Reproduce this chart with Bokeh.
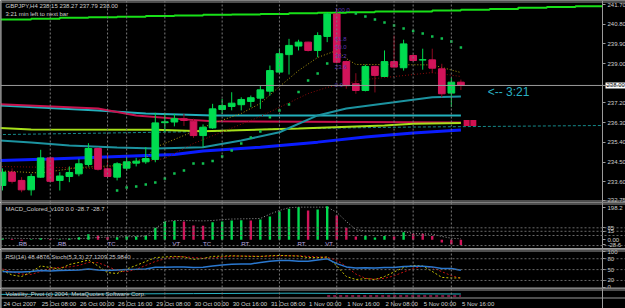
from bokeh.plotting import figure
from bokeh.layouts import column
from bokeh.models import (Range1d, Span, ColumnDataSource, FixedTicker, LinearAxis,
                          CustomJSTickFormatter)
from bokeh.core.properties import value
from bokeh.embed import file_html
from bokeh.resources import INLINE

# ---------------- data ----------------
bars = list(range(49))
opens = [233.43, 234.04, 233.66, 233.23, 233.81, 234.69, 233.66, 233.84, 233.96, 234.39,
         235.12, 234.19, 233.81, 234.22, 234.45, 234.51, 234.62, 236.30, 236.33, 236.48,
         236.37, 235.71, 236.06, 236.90, 237.04, 237.12, 237.27, 237.42, 237.74, 238.61,
         239.41, 239.80, 239.98, 239.60, 240.24, 241.27, 239.09, 238.08, 237.77, 238.87,
         238.41, 239.09, 238.81, 239.37, 239.16, 239.17, 238.76, 237.65, 238.15]
highs = [234.21, 234.21, 233.81, 233.96, 235.06, 234.75, 234.04, 234.30, 234.65, 235.36,
         235.18, 234.89, 234.49, 234.69, 234.69, 235.18, 236.75, 236.72, 236.70, 236.70,
         236.48, 236.22, 237.16, 237.39, 237.69, 237.46, 237.54, 238.00, 238.91, 239.68,
         240.13, 240.09, 240.00, 240.43, 241.35, 241.50, 239.14, 238.56, 238.95, 238.91,
         239.60, 240.28, 240.09, 239.45, 239.68, 239.68, 238.99, 238.35, 238.27]
lows = [233.20, 233.52, 233.12, 232.97, 233.78, 233.58, 233.20, 233.58, 233.85, 234.30,
        234.11, 233.81, 233.66, 234.11, 234.30, 234.42, 234.49, 235.87, 236.13, 236.15,
        235.61, 235.18, 236.02, 236.70, 236.86, 236.86, 237.01, 236.93, 237.54, 238.53,
        238.50, 239.60, 239.55, 239.29, 239.98, 239.00, 237.85, 237.62, 237.73, 237.68,
        238.41, 238.82, 238.68, 239.10, 238.72, 238.56, 237.46, 237.01, 237.79]
closes = [234.04, 233.62, 233.23, 233.84, 234.69, 233.62, 233.86, 234.02, 234.42, 235.12,
          234.17, 233.84, 234.42, 234.51, 234.54, 234.66, 236.29, 236.34, 236.48, 236.40,
          235.71, 236.09, 236.93, 237.08, 237.19, 237.36, 237.44, 237.80, 238.68, 239.45,
          239.83, 239.98, 239.60, 240.28, 241.27, 239.06, 237.99, 237.77, 238.87, 238.46,
          239.09, 238.84, 239.90, 239.14, 239.18, 238.79, 237.62, 238.15, 238.00]

time_label_bars = [0, 4, 8, 12, 16, 20, 24, 28, 32, 36, 40, 44, 48]
time_labels = ["24 Oct 2007", "25 Oct 08:00", "26 Oct 00:00", "26 Oct 16:00", "29 Oct 08:00",
               "30 Oct 00:00", "30 Oct 16:00", "31 Oct 08:00", "1 Nov 00:00", "1 Nov 16:00",
               "2 Nov 08:00", "5 Nov 00:00", "5 Nov 16:00"]
separator_bars = [5, 11, 13, 17, 23, 29, 35, 41, 43, 47]

price_ticks = [241.70, 240.80, 239.90, 239.00, 237.20, 236.30, 235.40, 234.50, 233.60, 232.75]
bid_price = 238.00
bid_text = ["238.00"]

# stepped channel line at the top (projected to the right edge of the chart)
chan_bars = [-1, 3, 6, 9, 12, 15, 18, 21, 24, 27, 30, 33, 36, 39, 42, 45, 48, 51, 54, 57, 60]
chan_vals = [241.01, 241.05, 241.09, 241.12, 241.14, 241.17, 241.20, 241.23, 241.24, 241.27,
             241.30, 241.32, 241.35, 241.38, 241.38, 241.43, 241.46, 241.50, 241.55, 241.59,
             241.62]

# moving averages
teal1_bars = [-1, 10, 15, 22, 48]
teal1_vals = [237.10, 236.86, 236.72, 236.63, 236.63]
crimson_bars = [-1, 10, 14, 19, 22, 43, 48]
crimson_vals = [237.15, 236.95, 236.63, 236.45, 236.36, 236.32, 236.31]
lime_bars = [-1, 3, 16, 21, 31, 40, 43, 48]
lime_vals = [236.07, 235.99, 235.98, 235.91, 236.03, 236.17, 236.25, 236.29]
tealdash_bars = [-1, 10, 22, 29, 43]
tealdash_vals = [235.75, 235.82, 235.90, 236.02, 236.10]
tealdash_end = 236.17
teal2_bars = [-1, 3, 7, 12, 16, 21, 25, 29, 33, 36, 41, 45, 48]
teal2_vals = [235.50, 235.39, 235.26, 235.17, 235.12, 235.18, 235.48, 235.86, 236.63, 236.95,
              237.23, 237.46, 237.50]
blue_bars = [-1, 5, 10, 18, 21, 27, 33, 38, 43, 48]
blue_vals = [234.56, 234.64, 234.72, 234.85, 235.00, 235.18, 235.41, 235.64, 235.83, 235.97]
fast_bars = [-1, 4, 8, 12, 15, 16, 22, 25, 27, 29, 31, 33, 35, 36, 37, 45, 48]
fast_vals = [234.11, 234.00, 234.25, 234.34, 234.66, 235.17, 236.26, 236.72, 237.18, 237.95,
             238.68, 239.28, 239.60, 239.23, 238.96, 238.94, 238.59]
slow_bars = [-1, 6, 10, 13, 17, 20, 27, 32, 34, 38, 45, 48]
slow_vals = [234.30, 234.25, 234.20, 234.39, 234.66, 235.35, 236.58, 237.63, 237.91, 238.27,
             238.59, 238.41]

sar_bars = [12, 13, 14, 15, 16, 17, 18, 19, 20, 21, 22, 23, 24, 25, 26, 27, 28, 29, 30, 31, 32,
            33, 34, 37, 38, 39, 40, 41, 42, 43, 44, 45, 46, 47, 48]
sar_vals = [233.20, 233.34, 233.38, 233.47, 233.57, 233.75, 233.98, 234.11, 234.43, 234.43,
            234.55, 234.75, 235.03, 235.35, 235.62, 235.90, 236.55, 236.85, 237.13, 237.70,
            238.23, 238.55, 239.00, 241.29, 241.15, 241.01, 240.88, 240.74, 240.60, 240.49,
            240.37, 240.24, 240.15, 240.01, 239.73]

fibo_labels = ["100.0", "61.8", "50.0", "38.2", "23.6", "0.0"]
fibo_prices = [241.43, 240.13, 239.74, 239.34, 238.84, 238.04]
marker_bars = [48.6, 49.3]
marker_vals = [236.28, 236.28]
timer_text = ["<-- 3:21"]
timer_bar = [50.8]
timer_price = [237.72]

macd_vals = [6, 4, -6, 3, 8, 4, 3, 6, 14, 30, 23, 14, 14, 18, 17, 25, 65, 100, 102, 100,
             78, 76, 96, 100, 105, 107, 105, 110, 127, 154, 169, 178, 160, 165, 183, 132, 65, 18,
             20, 12, 20, 18, 41, 32, 32, 20, -15, -25, -28.7]
macd_up = ["g", "r", "r", "g", "g", "r", "g", "g", "g", "g", "r", "r", "g", "g", "g", "g", "g",
           "g", "g", "r", "r", "r", "g", "g", "g", "g", "r", "g", "g", "g", "g", "g", "r", "g",
           "g", "r", "r", "r", "g", "g", "g", "r", "g", "r", "r", "r", "r", "r", "r"]
macd_signal = [8, 8, 7, 6, 6, 6, 5, 5, 6, 8, 12, 14, 15, 16, 17, 20, 60, 100, 105, 105, 104,
               103, 105, 110, 113, 114, 115, 116, 140, 160, 175, 178, 178, 178, 178, 150, 100,
               55, 48, 48, 47, 47, 46, 33, 32, 30, 18, 8, 5]
macd_levels = [65, 46, 23, -32]
macd_ticks = [176, 65, 46, 0, -28.6]
macd_tick_text = {176: "198.2", 65: "85", 46: "15", 0: "0.00", -28.6: "-28.6"}
pattern_bars = [1.7, 5.8, 11, 17.8, 21, 25, 30.9, 33.8]
pattern_texts = ["RB", "RB", "TC", "VT", "TC", "RT", "RT", "VT"]

rsi_vals = [45, 43.4, 43.4, 45, 47.5, 45.9, 47.5, 48.3, 49.2, 51.7, 49.2, 47.5, 49.2, 50, 50.8,
            51.7, 56.6, 56.6, 57.5, 57.5, 55.8, 56.6, 60, 62.4, 64.9, 65.7, 65.7, 69.9, 73.2,
            74.9, 74.9, 73.2, 73.2, 76.5, 79.8, 66.6, 57.5, 54.1, 55, 54.1, 55.8, 55.8, 58.3,
            59.1, 59.1, 57.5, 53.3, 53.3, 48.49]
stoch_main = [47.5, 35.1, 30.9, 43.4, 60, 55.8, 51.7, 64.1, 69.9, 76.5, 60, 41.7, 39.2, 51.7,
              61.6, 72.4, 83.2, 84.8, 86.5, 84.8, 78.2, 80.7, 86.5, 87.3, 88.1, 87.3, 86.5, 86.5,
              88.1, 89, 88.1, 87.3, 83.2, 83.2, 84.8, 60, 30.9, 22.6, 25.1, 22.6, 30.9, 43.4,
              55.8, 61.6, 60, 45, 28.4, 26.8, 27.12]
stoch_signal = [51.7, 43.4, 37.6, 36.7, 45, 53.3, 55.8, 57.5, 61.6, 69.9, 69.1, 59.1, 46.7,
                44.2, 50.8, 61.6, 72.4, 79.8, 84.8, 85.6, 83.2, 81.5, 81.5, 84.8, 87.3, 87.3,
                87.3, 86.5, 87.3, 88.1, 88.1, 88.1, 86.5, 84.8, 84, 75.7, 58.3, 37.6, 26, 23.5,
                26, 32.6, 43.4, 53.3, 59.1, 55.8, 44.2, 33.4, 25.98]
rsi_levels = [80, 50, 20]
rsi_ticks = [100, 80, 50, 20, 0]

vol_teal_bars = [-1, 10, 20, 30, 40, 48]
vol_teal_vals = [0.45, 0.5, 0.55, 0.6, 0.55, 0.5]
vol_pink_bars = [34, 48]
vol_pink_vals = [0.25, 0.25]

# ---------------- layout constants / styling ----------------
BG = "#000000"
GRID = "#7a7a7a"
FRAME = "#9a9a9a"
AXC = "#d0d0d0"
BULL = "#00dc50"
BEAR = "#d2145a"
FONT = "Liberation Sans"
W = 625
PX_PER_BAR = 9.55
X0 = -2 / PX_PER_BAR                 # left edge of the chart
X1 = (W - 2) / PX_PER_BAR            # right edge of the canvas
AX = (602 - 2) / PX_PER_BAR          # price scale position


def make_panel(height, yr, top_px, bottom_px, with_axis=True):
    p = figure(width=W, height=height, output_backend="svg", toolbar_location=None,
               x_range=Range1d(X0, X1), y_range=Range1d(*yr), y_axis_location=None,
               x_axis_location=None, min_border_left=0, min_border_right=0,
               min_border_top=0, min_border_bottom=0)
    p.background_fill_color = BG
    p.border_fill_color = BG
    p.outline_line_color = None
    p.grid.visible = False
    per_px = (yr[1] - yr[0]) / height
    p.add_layout(Span(location=yr[1] - top_px * per_px, dimension="width",
                      line_color=FRAME, line_width=1))
    if bottom_px is not None:
        p.add_layout(Span(location=yr[1] - bottom_px * per_px, dimension="width",
                          line_color=FRAME, line_width=1))
    p.add_layout(Span(location=X0 + 0.6 / PX_PER_BAR, dimension="height",
                      line_color=FRAME, line_width=1))
    for b in separator_bars:
        p.add_layout(Span(location=b, dimension="height", line_color=GRID,
                          line_dash="2 2", line_width=1))
    ax = None
    if with_axis:
        ax = LinearAxis(fixed_location=AX)
        ax.axis_line_color = FRAME
        ax.major_tick_line_color = FRAME
        ax.minor_tick_line_color = None
        ax.major_tick_out = 3
        ax.major_tick_in = 0
        ax.major_label_standoff = 2
        ax.major_label_text_color = AXC
        ax.major_label_text_font = FONT
        ax.major_label_text_font_size = "6px"
        p.add_layout(ax, "right")
    return p, ax


def label_text(p, xs, ys, texts, color=AXC, size="6px", **kw):
    p.text(x=xs, y=ys, text=texts, text_color=color, text_font=value(FONT),
           text_font_size=size, text_baseline="middle", text_align="left", **kw)


# ---------------- main price panel ----------------
pm, axm = make_panel(202, (232.651, 241.883), 1.5, 200.5)
axm.ticker = FixedTicker(ticks=price_ticks)
axm.formatter = CustomJSTickFormatter(code="return tick.toFixed(2);")

pm.add_layout(Span(location=bid_price, dimension="width", line_color="#9a9a9a", line_width=1))

pm.step(chan_bars + [AX], chan_vals + [chan_vals[-1]], mode="after", line_color="#18e018",
        line_width=2)
pm.line(tealdash_bars + [AX], tealdash_vals + [tealdash_end], line_color="#158a8a",
        line_width=1, line_dash="3 2")
pm.line(teal1_bars, teal1_vals, line_color="#22b0bc", line_width=2)
pm.line(crimson_bars, crimson_vals, line_color="#c8124e", line_width=2)
pm.line(lime_bars, lime_vals, line_color="#a6e01a", line_width=2)
pm.line(teal2_bars, teal2_vals, line_color="#1c93a0", line_width=2)
pm.line(blue_bars, blue_vals, line_color="#0a1cff", line_width=3)
pm.line(slow_bars, slow_vals, line_color="#8a0a0a", line_width=1, line_dash="1 2")
pm.line(fast_bars, fast_vals, line_color="#b09a10", line_width=1, line_dash="1 2")

up = [c >= o for o, c in zip(opens, closes)]
src = ColumnDataSource(dict(
    x=bars, o=opens, h=highs, l=lows, c=closes,
    top=[max(o, c) for o, c in zip(opens, closes)],
    bot=[min(o, c) for o, c in zip(opens, closes)],
    body=[BULL if u else BEAR for u in up],
    wick=[BULL if u else "#8c0a20" for u in up],
))
pm.segment("x", "h", "x", "l", source=src, line_color="wick", line_width=1)
pm.vbar(x="x", top="top", bottom="bot", width=0.7, source=src, fill_color="body",
        line_color="body", line_width=1)

pm.scatter(sar_bars, sar_vals, size=2.5, marker="square", fill_color="#10c050",
           line_color=None)
pm.scatter(marker_bars, marker_vals, size=6, marker="square", fill_color="#d01050",
           line_color=None)

label_text(pm, [34.8] * len(fibo_labels), fibo_prices, fibo_labels, color="#5a36b0")
label_text(pm, timer_bar, timer_price, timer_text, color="#2ab0c0", size="12px")
pm.text(x=[AX], y=[bid_price], text=bid_text, text_color="#000000", text_font=value(FONT),
        text_font_size="6px", text_baseline="middle", text_align="left", x_offset=3,
        background_fill_color="#ffffff", padding=1)

info_src = ColumnDataSource(dict(x=[X0, X0], y=[241.64, 241.27],
                                 t=["GBPJPY,H4  238.15 238.27 237.79 238.00",
                                    "3:21 min left to next bar"]))
pm.text(x="x", y="y", text="t", source=info_src, x_offset=5, text_color=AXC,
        text_font=value(FONT), text_font_size="6px", text_baseline="middle")

# ---------------- MACD panel ----------------
pmacd, axc = make_panel(47, (-53.6, 203.5), 1.5, 46)
axc.ticker = FixedTicker(ticks=macd_ticks)
axc.major_label_overrides = macd_tick_text
for lv in macd_levels:
    pmacd.add_layout(Span(location=lv, dimension="width", line_color="#6a6a6a",
                          line_dash="2 2", line_width=1))
msrc = ColumnDataSource(dict(x=bars, v=macd_vals,
                             col=[BULL if k == "g" else BEAR for k in macd_up]))
pmacd.vbar(x="x", top="v", bottom=0, width=0.25, source=msrc, fill_color="col",
           line_color=None)
pmacd.line(bars, macd_signal, line_color="#a0a0a0", line_width=1, line_dash="1 2")
label_text(pmacd, pattern_bars, [-21] * len(pattern_bars), pattern_texts, color="#b8a8e0")
label_text(pmacd, [X0], [170], ["MACD_Colored_v103 0.0 -28.7 -28.7"], x_offset=5)

# ---------------- RSI / Stoch panel ----------------
prsi, axr = make_panel(39, (-2.2, 105.5), 1.5, 38.5)
axr.ticker = FixedTicker(ticks=rsi_ticks)
for lv in rsi_levels:
    prsi.add_layout(Span(location=lv, dimension="width", line_color="#6a6a6a",
                         line_dash="2 2", line_width=1))
prsi.line(bars, stoch_signal, line_color="#c01010", line_width=1, line_dash="2 2")
prsi.line(bars, stoch_main, line_color="#c8c000", line_width=1, line_dash="2 2")
prsi.line(bars, rsi_vals, line_color="#2a78d0", line_width=1.5)
label_text(prsi, [X0], [86], ["RSI(14) 48.4876  Stoch(5,3,3) 27.1209 25.9840"], x_offset=5)

# ---------------- bottom panel + time scale ----------------
pv, _ = make_panel(20, (-1.3125, 1.1875), 1.5, 9.5, with_axis=False)
pv.add_layout(Span(location=AX, dimension="height", line_color=FRAME, line_width=1))
pv.line(vol_teal_bars, vol_teal_vals, line_color="#2ab0c0", line_width=1)
pv.line(vol_pink_bars, vol_pink_vals, line_color="#ff2a80", line_width=1, line_dash="3 3")
label_text(pv, [X0], [0.55], ["Volatility_Pivot (c) 2004, MetaQuotes Software Corp."],
           x_offset=5)
label_text(pv, time_label_bars, [-0.78] * len(time_label_bars), time_labels, x_offset=1)

layout = column(pm, pmacd, prsi, pv, spacing=0)
open("out.html", "w").write(file_html(layout, INLINE))
